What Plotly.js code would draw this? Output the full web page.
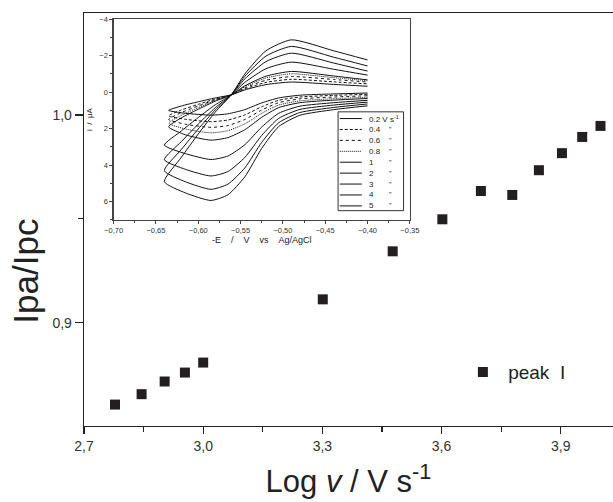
<!DOCTYPE html>
<html>
<head>
<meta charset="utf-8">
<script src="https://cdn.plot.ly/plotly-3.0.1.min.js"></script>
<style>html,body{margin:0;padding:0;background:#fff;}#chart{width:613px;height:502px;}</style>
</head>
<body>
<div id="chart"></div>
<script>
// ---- main chart data ----
const logV = [2.778, 2.845, 2.903, 2.954, 3.0, 3.301, 3.477, 3.602, 3.699, 3.778, 3.845, 3.903, 3.954, 4.0];
const ipaIpc = [0.8607, 0.8657, 0.8718, 0.8761, 0.8809, 0.9113, 0.9344, 0.9498, 0.9634, 0.9615, 0.9734, 0.9816, 0.9894, 0.9947];
const seriesName = '\u00a0peak\u00a0\u00a0I';

// ---- inset (cyclic voltammograms) data ----
const scanRates = ['0.2', '0.4', '0.6', '0.8', '1', '2', '3', '4', '5'];
const potentialLower = [-0.40, -0.44, -0.48, -0.505, -0.525, -0.545, -0.565, -0.585, -0.615];
const potentialUpper = [-0.62, -0.60, -0.58, -0.561, -0.545, -0.52, -0.49, -0.44, -0.40];
const potentialStart = [-0.635, -0.635, -0.635, -0.635, -0.635, -0.64, -0.64, -0.64, -0.64];
const i_0_2 = [0.05, 0.10, 0.17, 0.32, 0.59, 0.96, 1.19, 1.26, 1.16, 1.0, 0.76, 0.53, 0.32, 0.15, -0.12, -0.41, -0.55, -0.42, -0.32];
const i_0_4 = [0.12, 0.18, 0.27, 0.45, 0.80, 1.25, 1.53, 1.62, 1.49, 1.3, 0.98, 0.67, 0.38, 0.15, -0.17, -0.53, -0.70, -0.56, -0.45];
const i_0_6 = [0.20, 0.27, 0.37, 0.58, 0.98, 1.50, 1.83, 1.93, 1.76, 1.5, 1.12, 0.76, 0.42, 0.15, -0.23, -0.65, -0.85, -0.69, -0.55];
const i_0_8 = [0.28, 0.36, 0.48, 0.71, 1.16, 1.74, 2.11, 2.23, 2.02, 1.7, 1.27, 0.85, 0.46, 0.15, -0.29, -0.77, -1.00, -0.79, -0.62];
const i_1 = [0.35, 0.44, 0.58, 0.85, 1.38, 2.06, 2.49, 2.63, 2.34, 1.9, 1.41, 0.94, 0.50, 0.15, -0.34, -0.87, -1.13, -0.88, -0.67];
const i_2 = [0.45, 0.58, 0.77, 1.16, 1.91, 2.88, 3.50, 3.69, 3.37, 2.9, 2.13, 1.39, 0.70, 0.15, -0.53, -1.28, -1.64, -1.25, -0.93];
const i_3 = [0.55, 0.71, 0.95, 1.44, 2.37, 3.58, 4.35, 4.59, 4.23, 3.7, 2.71, 1.75, 0.86, 0.15, -0.72, -1.67, -2.13, -1.59, -1.15];
const i_4 = [0.65, 0.84, 1.12, 1.68, 2.75, 4.15, 5.04, 5.32, 4.91, 4.3, 3.14, 2.02, 0.98, 0.15, -0.86, -1.97, -2.50, -1.91, -1.43];
const i_5 = [0.75, 0.96, 1.27, 1.89, 3.08, 4.64, 5.62, 5.93, 5.52, 4.9, 3.57, 2.29, 1.10, 0.15, -0.99, -2.26, -2.86, -2.26, -1.76];
const currents = [i_0_2, i_0_4, i_0_6, i_0_8, i_1, i_2, i_3, i_4, i_5];
const dashes = ['solid', '3px,2px', 'dot', '1px,1px', 'solid', 'solid', 'solid', 'solid', 'solid'];

// ---- geometry helpers (pixel -> paper) ----
const L = 84.4, R = 613, T = 13.3, B = 425.7;
const px = x => (x - L) / (R - L);
const py = y => (B - y) / (B - T);

const ink = '#231f20';
const traces = [];
traces.push({
  x: logV, y: ipaIpc, type: 'scatter', mode: 'markers', name: seriesName,
  marker: {symbol: 'square', size: 10, color: ink},
  xaxis: 'x', yaxis: 'y', showlegend: true
});
currents.forEach((cur, k) => {
  const xs = potentialLower.concat([potentialStart[k]], potentialUpper);
  traces.push({
    x: xs, y: cur, type: 'scatter', mode: 'lines', name: scanRates[k],
    line: {color: '#111', width: 1, dash: dashes[k], shape: 'spline', smoothing: 0.6},
    xaxis: 'x2', yaxis: 'y2', showlegend: false, hoverinfo: 'skip'
  });
});

// ---- manual inset legend + y title ----
const shapes = [], annotations = [];
const lgL = 338.3, lgR = 403.7, lgT = 112, lgB = 210.7, row0 = 118.7, rowStep = 10.9;
shapes.push({type: 'rect', xref: 'paper', yref: 'paper', x0: px(lgL), x1: px(lgR), y0: py(lgB), y1: py(lgT),
  line: {color: '#333', width: 1}, fillcolor: 'rgba(255,255,255,0)'});
scanRates.forEach((r, k) => {
  const yy = row0 + k * rowStep;
  shapes.push({type: 'line', xref: 'paper', yref: 'paper', x0: px(340), x1: px(362), y0: py(yy), y1: py(yy),
    line: {color: '#111', width: 1, dash: dashes[k]}});
  annotations.push({xref: 'paper', yref: 'paper', x: px(367.5), y: py(yy), xanchor: 'left', yanchor: 'middle',
    text: k === 0 ? r + ' V s<sup>-1</sup>' : r, showarrow: false, font: {size: 8, color: '#222'}});
  if (k > 0) annotations.push({xref: 'paper', yref: 'paper', x: px(387), y: py(yy), xanchor: 'left', yanchor: 'middle',
    text: '"', showarrow: false, font: {size: 7, color: '#222'}});
});
annotations.push({xref: 'paper', yref: 'paper', x: px(26), y: py(271), xanchor: 'center', yanchor: 'middle',
  text: 'Ipa/Ipc', textangle: -90, showarrow: false, font: {size: 35, color: '#222'}});

const layout = {
  width: 613, height: 502,
  margin: {l: L, r: 0, t: T, b: 502 - B},
  paper_bgcolor: '#fff', plot_bgcolor: '#fff',
  separators: ', ',
  font: {family: 'Liberation Sans, Arial, sans-serif', color: '#222'},
  showlegend: true,
  legend: {x: px(463), y: py(353), xanchor: 'left', yanchor: 'top', bgcolor: 'rgba(0,0,0,0)',
    font: {size: 19, color: '#222'}},
  xaxis: {
    domain: [0, 1], range: [2.7, 4.0315], tick0: 2.7, dtick: 0.3, tickformat: '.1f',
    ticks: 'outside', ticklen: 7, tickwidth: 1.2, tickcolor: '#222',
    showline: true, linecolor: '#222', linewidth: 1.3, mirror: true,
    showgrid: false, zeroline: false,
    tickfont: {size: 14, color: '#333'},
    minor: {dtick: 0.15, tick0: 2.7, ticks: 'outside', ticklen: 5, tickwidth: 1.2, tickcolor: '#222', showgrid: false},
    title: {text: 'Log <i>v</i> / V s<sup>-1</sup>', font: {size: 31, color: '#222'}, standoff: 17}
  },
  yaxis: {
    domain: [0, 1], range: [0.8504, 1.049], tick0: 0.9, dtick: 0.1, tickformat: '.1f',
    ticks: 'outside', ticklen: 8, tickwidth: 1.2, tickcolor: '#222',
    showline: true, linecolor: '#222', linewidth: 1.3, mirror: false,
    showgrid: false, zeroline: false,
    tickfont: {size: 14, color: '#333'},
    minor: {dtick: 0.05, tick0: 0.85, ticks: 'outside', ticklen: 5, tickwidth: 1.2, tickcolor: '#222', showgrid: false}
  },
  xaxis2: {
    domain: [px(114), px(410)], anchor: 'y2', range: [-0.70, -0.35], tick0: -0.70, dtick: 0.05, tickformat: '.2f',
    ticks: 'outside', ticklen: 3, tickwidth: 1, tickcolor: '#444',
    showline: true, linecolor: '#444', linewidth: 1.2, mirror: true,
    showgrid: false, zeroline: false,
    tickfont: {size: 7.5, color: '#333'},
    minor: {dtick: 0.025, ticks: 'outside', ticklen: 2, tickwidth: 1, tickcolor: '#444', showgrid: false},
    title: {text: '-E\u00a0\u00a0\u00a0\u00a0/\u00a0\u00a0\u00a0\u00a0V\u00a0\u00a0\u00a0\u00a0vs\u00a0\u00a0\u00a0\u00a0Ag/AgCl', font: {size: 9, color: '#222'}, standoff: 2}
  },
  yaxis2: {
    domain: [py(220), py(19.3)], anchor: 'x2', range: [7, -4], tick0: -4, dtick: 2,
    ticks: 'outside', ticklen: 3, tickwidth: 1, tickcolor: '#444',
    showline: true, linecolor: '#444', linewidth: 1.2, mirror: true,
    showgrid: false, zeroline: false,
    tickfont: {size: 7.5, color: '#333'},
    minor: {dtick: 1, ticks: 'outside', ticklen: 2, tickwidth: 1, tickcolor: '#444', showgrid: false},
    title: {text: 'i\u00a0\u00a0/\u00a0\u00a0\u03bcA', font: {size: 8, color: '#222'}, standoff: 5}
  },
  shapes: shapes,
  annotations: annotations
};

Plotly.newPlot('chart', traces, layout, {displayModeBar: false, staticPlot: true});
</script>
</body>
</html>
